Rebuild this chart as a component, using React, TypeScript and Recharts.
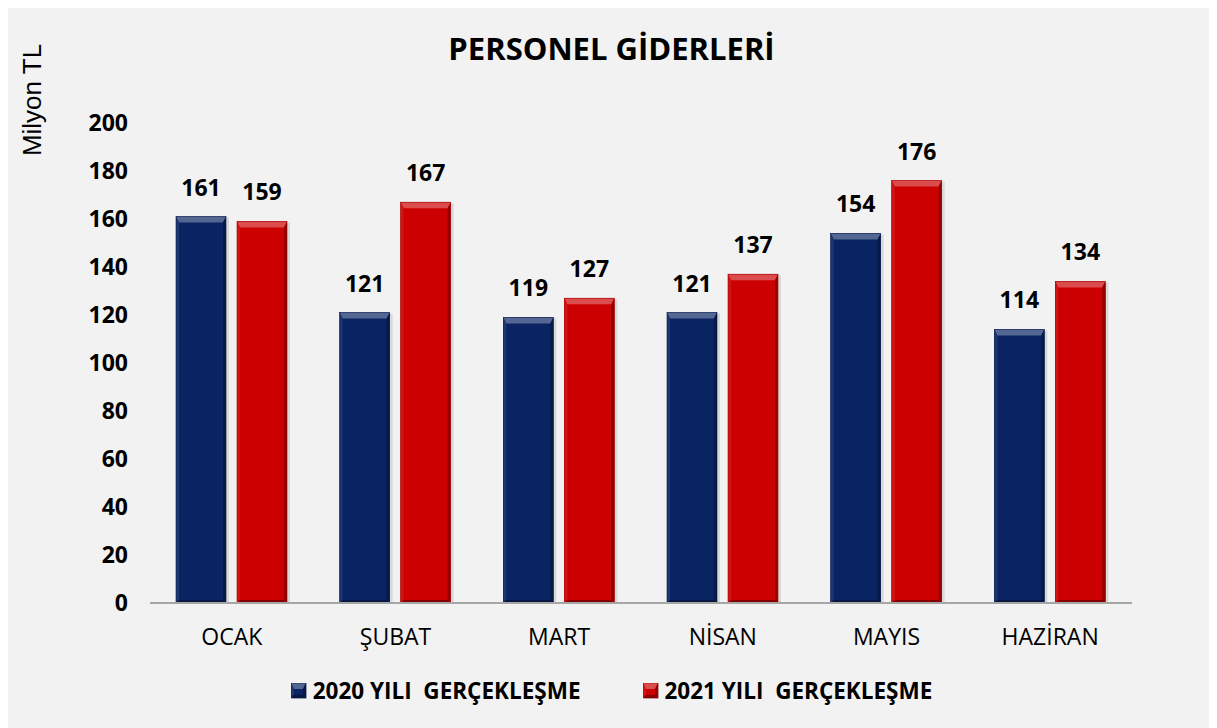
import React from "react";
import { BarChart, Bar, XAxis, YAxis, LabelList } from "recharts";

const months = ["OCAK", "ŞUBAT", "MART", "NİSAN", "MAYIS", "HAZİRAN"];
const values2020 = [161, 121, 119, 121, 154, 114];
const values2021 = [159, 167, 127, 137, 176, 134];
const yTicks = [0, 20, 40, 60, 80, 100, 120, 140, 160, 180, 200];

const data = months.map((m, i) => ({ month: m, y2020: values2020[i], y2021: values2021[i] }));

const FONT = "'Open Sans', 'Noto Sans', sans-serif";
const BLUE = "#0a2463";
const RED = "#cc0000";

const shade = (hex: string, amt: number) => {
  const n = parseInt(hex.slice(1), 16);
  const f = (c: number) => Math.max(0, Math.min(255, Math.round(amt > 0 ? c + (255 - c) * amt : c * (1 + amt))));
  const r = f(n >> 16), g = f((n >> 8) & 255), b = f(n & 255);
  return `rgb(${r},${g},${b})`;
};

// bevelled bar, roughly the office "soft edge" look
const BevelBar = (props: any) => {
  const { x, y, width: w, height: h, fill } = props;
  if (!h || h <= 0) return null;
  const t = Math.min(6, h / 2);
  const s = 3;
  return (
    <g>
      <rect x={x + 2} y={y + 1} width={w + 1} height={h} fill="#000" opacity={0.1} />
      <rect x={x} y={y} width={w} height={h} fill={fill} />
      <polygon points={`${x},${y} ${x + w},${y} ${x + w - s},${y + t} ${x + s},${y + t}`} fill={shade(fill, 0.3)} />
      <polygon points={`${x},${y} ${x + s},${y + t} ${x + s},${y + h - s} ${x},${y + h}`} fill={shade(fill, 0.08)} />
      <polygon points={`${x + w},${y} ${x + w - s},${y + t} ${x + w - s},${y + h - s} ${x + w},${y + h}`} fill={shade(fill, -0.3)} />
      <polygon points={`${x},${y + h} ${x + s},${y + h - s} ${x + w - s},${y + h - s} ${x + w},${y + h}`} fill={shade(fill, -0.35)} />
      <rect x={x} y={y} width={w} height={h} fill="none" stroke={shade(fill, -0.2)} strokeWidth={0.6} />
    </g>
  );
};

const legendItems = [
  { c: BLUE, t: "2020 YILI  GERÇEKLEŞME" },
  { c: RED, t: "2021 YILI  GERÇEKLEŞME" },
];

export default function App() {
  return (
    <div style={{ position: "relative", width: 1209, height: 723, marginTop: -3, marginLeft: -1, background: "#f2f2f2" }}>
      <div style={{ position: "absolute", left: 0, right: 0, top: 22, textAlign: "center", fontFamily: FONT, fontWeight: 700, fontSize: 31, color: "#000" }}>
        PERSONEL GİDERLERİ
      </div>
      <div style={{ position: "absolute", left: 25, top: 95, transform: "translate(-50%, -50%) rotate(-90deg)", fontFamily: "'Liberation Sans', Arial, sans-serif", fontSize: 26, color: "#000", whiteSpace: "nowrap" }}>
        Milyon TL
      </div>
      <BarChart
        width={1209}
        height={723}
        data={data}
        margin={{ top: 118, right: 84, left: 0, bottom: 0 }}
        barGap={11}
        barSize={50}
        style={{ position: "absolute", left: 0, top: 0 }}
      >
        <XAxis
          dataKey="month"
          axisLine={{ stroke: "#a6a6a6", strokeWidth: 2 }}
          tickLine={false}
          tickSize={0}
          tickMargin={26}
          height={125}
          tick={{ fontFamily: FONT, fontSize: 23, fill: "#000" }}
        />
        <YAxis
          width={143}
          domain={[0, 200]}
          ticks={yTicks}
          axisLine={false}
          tickLine={false}
          tickSize={0}
          tickMargin={22}
          tick={{ fontFamily: FONT, fontSize: 23, fontWeight: 700, fill: "#000" }}
        />
        <Bar dataKey="y2020" name="2020 YILI  GERÇEKLEŞME" fill={BLUE} shape={<BevelBar />} isAnimationActive={false}>
          <LabelList dataKey="y2020" position="top" offset={21} style={{ fontFamily: FONT, fontSize: 23, fontWeight: 700, fill: "#000" }} />
        </Bar>
        <Bar dataKey="y2021" name="2021 YILI  GERÇEKLEŞME" fill={RED} shape={<BevelBar />} isAnimationActive={false}>
          <LabelList dataKey="y2021" position="top" offset={21} style={{ fontFamily: FONT, fontSize: 23, fontWeight: 700, fill: "#000" }} />
        </Bar>
      </BarChart>
      <div style={{ position: "absolute", left: 0, right: 0, top: 670, display: "flex", justifyContent: "center", gap: 62, fontFamily: FONT, fontWeight: 700, fontSize: 22.5, lineHeight: "32px", color: "#000" }}>
        {legendItems.map((it) => (
          <div key={it.t} style={{ display: "flex", alignItems: "center", gap: 6 }}>
            <svg width={16} height={16}>
              <BevelBar x={0} y={0} width={15} height={15} fill={it.c} />
            </svg>
            <span style={{ whiteSpace: "pre" }}>{it.t}</span>
          </div>
        ))}
      </div>
    </div>
  );
}
